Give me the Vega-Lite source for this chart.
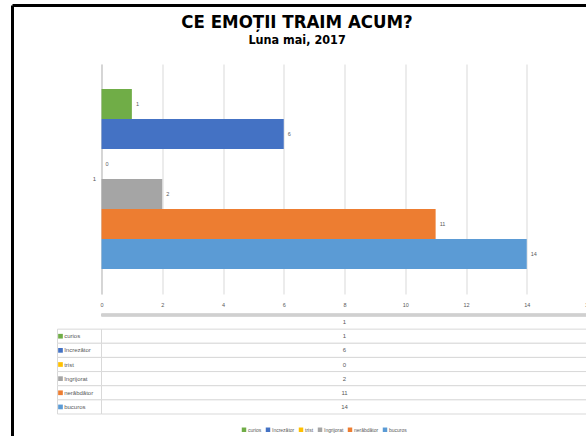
{
  "$schema": "https://vega.github.io/schema/vega-lite/v6.json",
  "padding": {"left": 10.5, "top": 4, "right": 0, "bottom": 0},
  "background": "white",
  "title": {
    "text": "CE EMOȚII TRAIM ACUM?",
    "subtitle": "Luna mai, 2017",
    "font": "'Liberation Sans Narrow', 'DejaVu Sans Condensed', sans-serif",
    "fontSize": 18.5,
    "fontWeight": "bold",
    "color": "#000000",
    "subtitleFont": "'Liberation Sans Narrow', 'DejaVu Sans Condensed', sans-serif",
    "subtitleFontSize": 12.5,
    "subtitleFontWeight": "bold",
    "subtitleColor": "#000000",
    "subtitlePadding": 2,
    "anchor": "middle",
    "dx": -6,
    "offset": -42
  },
  "datasets": {
    "emotii": [
      {"categorie": "1", "emotie": "curios", "valoare": 1},
      {"categorie": "1", "emotie": "încrezător", "valoare": 6},
      {"categorie": "1", "emotie": "trist", "valoare": 0},
      {"categorie": "1", "emotie": "îngrijorat", "valoare": 2},
      {"categorie": "1", "emotie": "nerăbdător", "valoare": 11},
      {"categorie": "1", "emotie": "bucuros", "valoare": 14}
    ]
  },
  "bounds": "flush",
  "spacing": 21,
  "resolve": {"scale": {"color": "independent"}, "legend": {"color": "independent"}},
  "vconcat": [
    {
      "width": 486,
      "height": 230,
      "view": {"stroke": null},
      "layer": [
        {
          "data": {"name": "emotii"},
          "layer": [
            {
              "mark": {"type": "bar"},
              "encoding": {
                "y": {
                  "field": "categorie", "type": "nominal", "title": null,
                  "scale": {"paddingInner": 0, "paddingOuter": 0.139},
                  "axis": {"domain": true, "domainColor": "#bfbfbf", "ticks": false, "grid": false, "labelFontSize": 6, "labelColor": "#595959", "labelPadding": 6, "labelAngle": 0}
                },
                "yOffset": {
                  "field": "emotie", "type": "nominal",
                  "sort": ["curios", "încrezător", "trist", "îngrijorat", "nerăbdător", "bucuros"],
                  "scale": {"paddingInner": 0, "paddingOuter": 0}
                },
                "x": {
                  "field": "valoare", "type": "quantitative", "title": null,
                  "scale": {"domain": [0, 16], "nice": false},
                  "axis": {"values": [0, 2, 4, 6, 8, 10, 12, 14, 16], "grid": true, "gridColor": "#d9d9d9", "domain": false, "ticks": false, "labelFontSize": 5.5, "labelColor": "#595959", "labelPadding": 8, "labelFlush": false, "labelOverlap": false}
                },
                "color": {
                  "field": "emotie", "type": "nominal",
                  "scale": {"domain": ["curios", "încrezător", "trist", "îngrijorat", "nerăbdător", "bucuros"], "range": ["#70AD47", "#4472C4", "#FFC000", "#A5A5A5", "#ED7D31", "#5B9BD5"]},
                  "legend": null
                }
              }
            },
            {
              "mark": {"type": "text", "align": "left", "baseline": "middle", "dx": 4, "fontSize": 5.5, "color": "#595959"},
              "encoding": {
                "y": {"field": "categorie", "type": "nominal"},
                "yOffset": {"field": "emotie", "type": "nominal", "sort": ["curios", "încrezător", "trist", "îngrijorat", "nerăbdător", "bucuros"]},
                "x": {"field": "valoare", "type": "quantitative"},
                "text": {"field": "valoare", "type": "quantitative"}
              }
            }
          ]
        },
        {
          "data": {"values": [{"cadru": "chenar"}]},
          "layer": [
            {
              "mark": {"type": "rule", "color": "#000000", "strokeWidth": 3},
              "encoding": {
                "x": {"datum": -2.93, "type": "quantitative"},
                "y": {"datum": 1.254, "type": "quantitative", "scale": {"domain": [0, 1], "nice": false}, "axis": null},
                "y2": {"datum": -0.617}
              }
            },
            {
              "mark": {"type": "rule", "color": "#000000", "strokeWidth": 3},
              "encoding": {
                "x": {"datum": -2.93, "type": "quantitative"},
                "x2": {"datum": 16.2},
                "y": {"datum": 1.254, "type": "quantitative"}
              }
            }
          ]
        }
      ],
      "resolve": {"scale": {"y": "independent"}}
    },
    {
      "width": 486,
      "height": 99,
      "view": {"stroke": null},
      "data": {"name": "emotii"},
      "layer": [
        {
          "mark": {"type": "rect", "fill": "#ffffff", "stroke": "#d9d9d9", "strokeWidth": 1},
          "encoding": {
            "x": {"datum": 0, "type": "quantitative", "scale": {"domain": [0, 16], "nice": false}, "axis": null},
            "x2": {"datum": 16.2},
            "y": {"field": "emotie", "type": "nominal", "scale": {"domain": ["1", "curios", "încrezător", "trist", "îngrijorat", "nerăbdător", "bucuros"], "paddingInner": 0, "paddingOuter": 0}, "axis": null}
          }
        },
        {
          "mark": {"type": "rect", "fill": "#ffffff", "stroke": "#d9d9d9", "strokeWidth": 1},
          "encoding": {
            "x": {"datum": -1.4486, "type": "quantitative"},
            "x2": {"datum": 0},
            "y": {"field": "emotie", "type": "nominal"}
          }
        },
        {
          "mark": {"type": "rule", "stroke": "#d0d0d0", "strokeWidth": 2.5},
          "encoding": {
            "x": {"datum": 0, "type": "quantitative"},
            "x2": {"datum": 16.2},
            "y": {"datum": "1", "type": "nominal", "bandPosition": 0}
          }
        },
        {
          "mark": {"type": "rule", "stroke": "#d9d9d9", "strokeWidth": 1},
          "encoding": {
            "x": {"datum": 0, "type": "quantitative"},
            "y": {"datum": "1", "type": "nominal"}
          }
        },
        {
          "mark": {"type": "point", "shape": "square", "filled": true, "size": 22, "opacity": 1},
          "encoding": {
            "x": {"datum": -1.35, "type": "quantitative"},
            "y": {"field": "emotie", "type": "nominal"},
            "color": {
              "field": "emotie", "type": "nominal",
              "scale": {"domain": ["curios", "încrezător", "trist", "îngrijorat", "nerăbdător", "bucuros"], "range": ["#70AD47", "#4472C4", "#FFC000", "#A5A5A5", "#ED7D31", "#5B9BD5"]},
              "legend": {"orient": "none", "legendX": 140, "legendY": 112, "direction": "horizontal", "title": null, "symbolType": "square", "symbolSize": 20, "symbolStrokeWidth": 0, "labelFontSize": 5, "labelColor": "#595959", "columnPadding": 4, "labelOffset": 1.5}
            }
          }
        },
        {
          "mark": {"type": "text", "align": "left", "baseline": "middle", "fontSize": 6, "color": "#595959"},
          "encoding": {
            "x": {"datum": -1.23, "type": "quantitative"},
            "y": {"field": "emotie", "type": "nominal"},
            "text": {"field": "emotie", "type": "nominal"}
          }
        },
        {
          "mark": {"type": "text", "align": "center", "baseline": "middle", "fontSize": 6, "color": "#595959"},
          "encoding": {
            "x": {"datum": 8, "type": "quantitative"},
            "y": {"field": "emotie", "type": "nominal"},
            "text": {"field": "valoare", "type": "quantitative"}
          }
        },
        {
          "transform": [{"aggregate": [], "groupby": ["categorie"]}],
          "mark": {"type": "text", "align": "center", "baseline": "middle", "fontSize": 6, "color": "#595959"},
          "encoding": {
            "x": {"datum": 8, "type": "quantitative"},
            "y": {"field": "categorie", "type": "nominal"},
            "text": {"field": "categorie", "type": "nominal"}
          }
        }
      ]
    }
  ],
  "config": {
    "font": "'Liberation Sans', Arial, sans-serif",
    "view": {"stroke": null}
  }
}
